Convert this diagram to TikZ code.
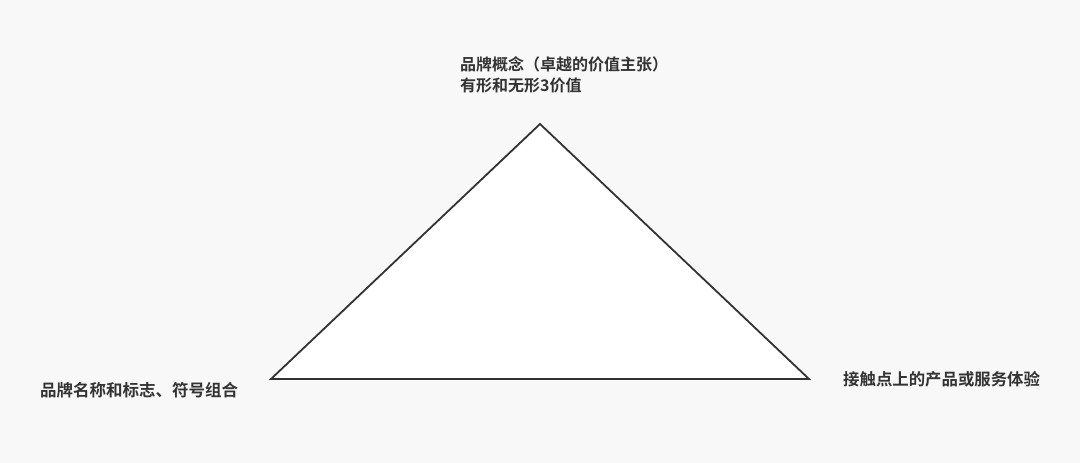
\documentclass[tikz,border=0pt]{standalone}
\usepackage{fontspec}
\newfontfamily\cjkb{Noto Sans CJK SC Bold}
\definecolor{bg}{HTML}{F8F8F8}
\definecolor{ink}{HTML}{333333}
\begin{document}
\begin{tikzpicture}[x=1pt,y=-1pt,
  lbl/.style={inner sep=0pt,anchor=base west,text=ink,font=\cjkb\fontsize{16}{20}\selectfont},
  tri/.style={draw=ink,line width=1.8pt,fill=white,line join=miter}]
\useasboundingbox[fill=bg] (0,0) rectangle (1080,463);
\coordinate (A) at (540,124);
\coordinate (B) at (271,379);
\coordinate (C) at (809,379);
\draw[tri] (A) -- (B) -- (C) -- cycle;
\node[lbl] (top1) at (460,70.5) {品牌概念（卓越的价值主张）};
\node[lbl] (top2) at (460,91) {有形和无形3价值};
\node[lbl,font=\cjkb\fontsize{16.5}{20}\selectfont] (left) at (40,396.5) {品牌名称和标志、符号组合};
\node[lbl,font=\cjkb\fontsize{16.4}{20}\selectfont] (right) at (843,385.5) {接触点上的产品或服务体验};
\end{tikzpicture}
\end{document}
